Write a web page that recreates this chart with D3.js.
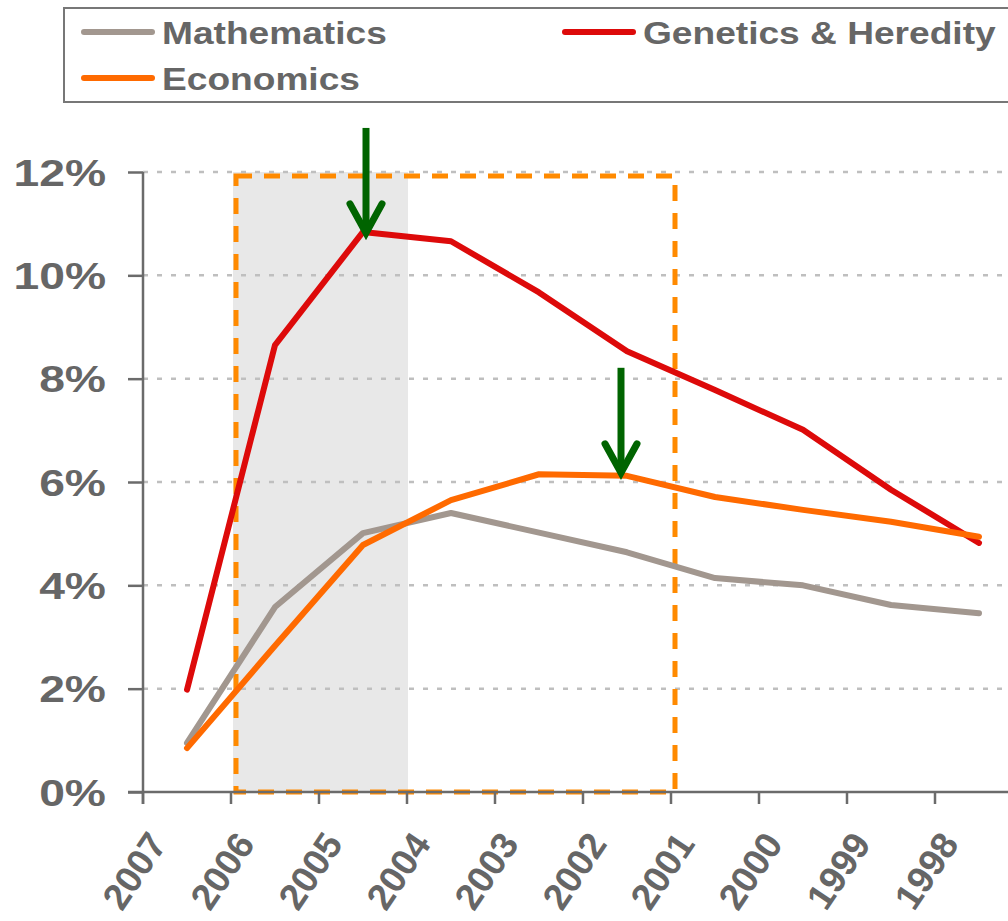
<!DOCTYPE html>
<html>

<head>
    <title>
        Share by field
    </title>
    <script src="https://cdn.jsdelivr.net/npm/d3@7"></script>
    <style>
        body { margin: 0; background: #fff; }
        text { font-family: "Liberation Sans", Arial, sans-serif; font-weight: bold; fill: #666; }
    </style>
</head>

<body>
    <svg></svg>
    <script>
        const width = 1008;
        const height = 921;

        // data
        const years = [2007, 2006, 2005, 2004, 2003, 2002, 2001, 2000, 1999, 1998];
        const mathematics = [0.95, 3.58, 5.01, 5.40, 5.02, 4.64, 4.14, 4.00, 3.62, 3.46];
        const genetics = [1.98, 8.65, 10.84, 10.66, 9.67, 8.53, 7.78, 7.01, 5.85, 4.82];
        const economics = [0.85, 2.83, 4.78, 5.65, 6.15, 6.12, 5.71, 5.46, 5.23, 4.94];
        const yTicks = [0, 2, 4, 6, 8, 10, 12];
        const seriesNames = ["Mathematics", "Genetics & Heredity", "Economics"];
        const seriesColors = ["#a2978f", "#dd0a0a", "#ff6a00"];

        let series = [
            { name: seriesNames[0], color: seriesColors[0], values: mathematics },
            { name: seriesNames[1], color: seriesColors[1], values: genetics },
            { name: seriesNames[2], color: seriesColors[2], values: economics }
        ];

        let svg = d3.select("svg")
            .attr("width", width)
            .attr("height", height);

        let xScale = d3.scaleBand()
            .domain(years)
            .range([143, 1023]);

        let yScale = d3.scaleLinear()
            .domain([0, 12])
            .range([792, 172]);

        let xc = (yr) => xScale(yr) + xScale.bandwidth() / 2;

        // grey highlight 2006-2004
        svg.append("rect")
            .attr("x", xScale(2006) + 2)
            .attr("y", yScale(12))
            .attr("width", xScale(2004) - xScale(2006) - 1)
            .attr("height", yScale(0) - yScale(12))
            .attr("fill", "#e8e8e8");

        // grid
        svg.append("g")
            .selectAll("line")
            .data(yTicks.slice(1))
            .enter()
            .append("line")
            .attr("x1", 143)
            .attr("x2", width)
            .attr("y1", (d) => yScale(d))
            .attr("y2", (d) => yScale(d))
            .attr("stroke", "#bfbfbf")
            .attr("stroke-width", 2.5)
            .attr("stroke-dasharray", "5,9");

        // orange dashed box 2006-2001
        svg.append("rect")
            .attr("x", xScale(2006) + 5)
            .attr("y", yScale(12) + 4)
            .attr("width", xScale(2001) - xScale(2006) - 1)
            .attr("height", yScale(0) - yScale(12) - 4)
            .attr("fill", "none")
            .attr("stroke", "#ff8a00")
            .attr("stroke-width", 5)
            .attr("stroke-dasharray", "16,12");

        // axes
        let yAxis = d3.axisLeft(yScale)
            .tickValues(yTicks)
            .tickSize(15)
            .tickFormat("");
        let gy = svg.append("g")
            .attr("class", "axis")
            .attr("transform", "translate(143,0)")
            .call(yAxis);
        gy.select(".domain").remove();
        gy.append("line")
            .attr("x1", 0).attr("x2", 0)
            .attr("y1", yScale(12)).attr("y2", yScale(0) + 12);

        gy.selectAll(".tick")
            .append("text")
            .attr("transform", "translate(-37,0) scale(1.25,1)")
            .attr("text-anchor", "end")
            .attr("dy", "0.36em")
            .style("font-size", "37px")
            .text((d) => d + "%");

        let xAxis = d3.axisBottom(xScale)
            .tickSize(12)
            .tickFormat("");
        let gx = svg.append("g")
            .attr("class", "axis")
            .attr("transform", "translate(0," + yScale(0) + ")")
            .call(xAxis);
        gx.select(".domain").remove();
        gx.selectAll(".tick")
            .attr("transform", (d) => "translate(" + xScale(d) + ",0)");
        gx.append("line")
            .attr("x1", 128).attr("x2", width)
            .attr("y1", 0).attr("y2", 0);

        gx.selectAll(".tick")
            .append("text")
            .attr("transform", "translate(25,52) rotate(-56)")
            .attr("text-anchor", "end")
            .style("font-size", "37px")
            .text((d) => d);

        svg.selectAll(".axis line")
            .attr("stroke", "#6b6b6b")
            .attr("stroke-width", 2.5);

        // series lines
        let linePath = d3.line()
            .x((d, i) => xc(years[i]))
            .y((d) => yScale(d));

        svg.append("g")
            .selectAll("path")
            .data([series[1], series[0], series[2]])
            .enter()
            .append("path")
            .attr("d", (d) => linePath(d.values))
            .attr("fill", "none")
            .attr("stroke", (d) => d.color)
            .attr("stroke-width", 6)
            .attr("stroke-linecap", "round")
            .attr("stroke-linejoin", "round");

        // green arrows
        let arrows = [
            { x: xc(2005) + 3, tip: yScale(genetics[2]) + 1 },
            { x: xc(2002) - 6, tip: yScale(economics[5]) - 3 }
        ];
        let ga = svg.append("g")
            .selectAll("g")
            .data(arrows)
            .enter()
            .append("g")
            .attr("stroke", "#006400")
            .attr("fill", "none");
        ga.append("line")
            .attr("x1", (d) => d.x).attr("x2", (d) => d.x)
            .attr("y1", (d) => d.tip - 105).attr("y2", (d) => d.tip - 6)
            .attr("stroke-width", 7);
        ga.append("path")
            .attr("d", (d) => "M" + (d.x - 16) + "," + (d.tip - 29) + "L" + d.x + "," + d.tip + "L" + (d.x + 16) + "," + (d.tip - 29))
            .attr("stroke-width", 7)
            .attr("stroke-linecap", "round")
            .attr("stroke-linejoin", "miter");

        // legend
        svg.append("rect")
            .attr("x", 64)
            .attr("y", 8)
            .attr("width", 1000)
            .attr("height", 94)
            .attr("fill", "none")
            .attr("stroke", "#777")
            .attr("stroke-width", 2);

        let legendPos = [[84, 32], [565, 32], [84, 78]];
        let lg = svg.append("g")
            .selectAll("g")
            .data(series)
            .enter()
            .append("g")
            .attr("transform", (d, i) => "translate(" + legendPos[i][0] + "," + legendPos[i][1] + ")");
        lg.append("line")
            .attr("x1", 0).attr("x2", 68)
            .attr("stroke", (d) => d.color)
            .attr("stroke-width", 6)
            .attr("stroke-linecap", "round");
        lg.append("text")
            .attr("transform", "translate(78,0) scale(1.16,1)")
            .attr("dy", "0.36em")
            .style("font-size", "32px")
            .text((d) => d.name);
    </script>
</body>

</html>
